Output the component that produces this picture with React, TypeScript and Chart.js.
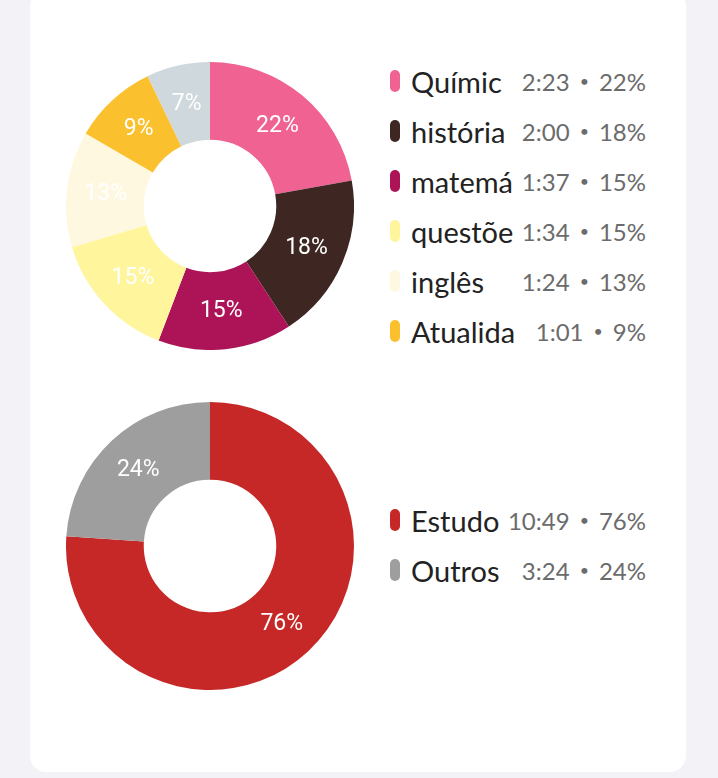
import React, { useEffect, useRef } from "react";
import { Chart, registerables } from "chart.js";

Chart.register(...registerables);

// ---- Data: subjects donut ----
const subjectLabels = ["Químic", "história", "matemá", "questõe", "inglês", "Atualida", "outros"];
const subjectMinutes = [143, 120, 97, 94, 84, 61, 46];
const subjectPercents = [22, 18, 15, 15, 13, 9, 7];
const subjectTimes = ["2:23", "2:00", "1:37", "1:34", "1:24", "1:01", ""];
const subjectColors = ["#F06292", "#3E2723", "#AD1457", "#FFF59D", "#FFF8E1", "#FBC02D", "#CFD8DC"];
const subjectLegendCount = 6;

// ---- Data: study vs other donut ----
const splitLabels = ["Estudo", "Outros"];
const splitMinutes = [649, 204];
const splitPercents = [76, 24];
const splitTimes = ["10:49", "3:24"];
const splitColors = ["#C62828", "#9E9E9E"];

const sliceLabelPlugin = {
  id: "sliceLabels",
  afterDatasetsDraw(chart: any) {
    const ctx = chart.ctx;
    const meta = chart.getDatasetMeta(0);
    const labels: number[] = chart.options.plugins.sliceLabels.percents;
    ctx.save();
    ctx.fillStyle = "#ffffff";
    ctx.font = "400 23px Roboto";
    ctx.textAlign = "center";
    ctx.textBaseline = "middle";
    meta.data.forEach((arc: any, i: number) => {
      const p = arc.tooltipPosition();
      ctx.fillText(labels[i] + "%", p.x, p.y + 1);
    });
    ctx.restore();
  },
};

function Donut(props: { data: number[]; colors: string[]; labels: string[]; percents: number[]; left: number; top: number }) {
  const ref = useRef<HTMLCanvasElement>(null);
  useEffect(() => {
    if (!ref.current) return;
    const chart = new Chart(ref.current, {
      type: "doughnut",
      data: {
        labels: props.labels,
        datasets: [
          {
            data: props.data,
            backgroundColor: props.colors,
            borderWidth: 0,
            hoverOffset: 0,
          },
        ],
      },
      options: {
        responsive: false,
        animation: false,
        cutout: "46%",
        layout: { padding: 0 },
        events: [],
        plugins: {
          legend: { display: false },
          tooltip: { enabled: false },
          // @ts-ignore
          sliceLabels: { percents: props.percents },
        },
      } as any,
      plugins: [sliceLabelPlugin],
    });
    return () => chart.destroy();
  }, []);
  return (
    <div style={{ position: "absolute", left: props.left, top: props.top, width: 288, height: 288 }}>
      <canvas ref={ref} width={288} height={288} style={{ width: 288, height: 288, display: "block" }} />
    </div>
  );
}

function Legend(props: { labels: string[]; colors: string[]; times: string[]; percents: number[]; count: number; left: number; top: number }) {
  const rows = [];
  for (let i = 0; i < props.count; i++) {
    rows.push(
      <div key={i} style={{ display: "flex", alignItems: "center", height: 50 }}>
        <div style={{ width: 10, height: 22, borderRadius: 5, background: props.colors[i], flex: "0 0 auto" }} />
        <div style={{ marginLeft: 11, fontSize: 29, color: "#222222", flex: "1 1 auto", whiteSpace: "nowrap" }}>{props.labels[i]}</div>
        <div style={{ fontSize: 24, fontWeight: 400, color: "#6b6b6b", whiteSpace: "nowrap", display: "flex", alignItems: "center" }}>
          <span>{props.times[i]}</span>
          <span style={{ fontSize: 16, margin: "0 10px", position: "relative", top: -1 }}>•</span>
          <span>{props.percents[i]}%</span>
        </div>
      </div>
    );
  }
  return (
    <div style={{ position: "absolute", left: props.left, top: props.top, width: 256, fontFamily: "Lato, sans-serif" }}>
      {rows}
    </div>
  );
}

export default function App() {
  return (
    <div style={{ position: "fixed", inset: 0, background: "#F2F2F7", overflow: "hidden" }}>
      <div
        style={{
          position: "absolute",
          left: 30,
          top: -10,
          width: 656,
          height: 782,
          background: "#ffffff",
          borderRadius: 16,
        }}
      />
      <Donut data={subjectMinutes} colors={subjectColors} labels={subjectLabels} percents={subjectPercents} left={66} top={62} />
      <Legend labels={subjectLabels} colors={subjectColors} times={subjectTimes} percents={subjectPercents} count={subjectLegendCount} left={390} top={56} />
      <Donut data={splitMinutes} colors={splitColors} labels={splitLabels} percents={splitPercents} left={66} top={402} />
      <Legend labels={splitLabels} colors={splitColors} times={splitTimes} percents={splitPercents} count={splitLabels.length} left={390} top={495} />
    </div>
  );
}
